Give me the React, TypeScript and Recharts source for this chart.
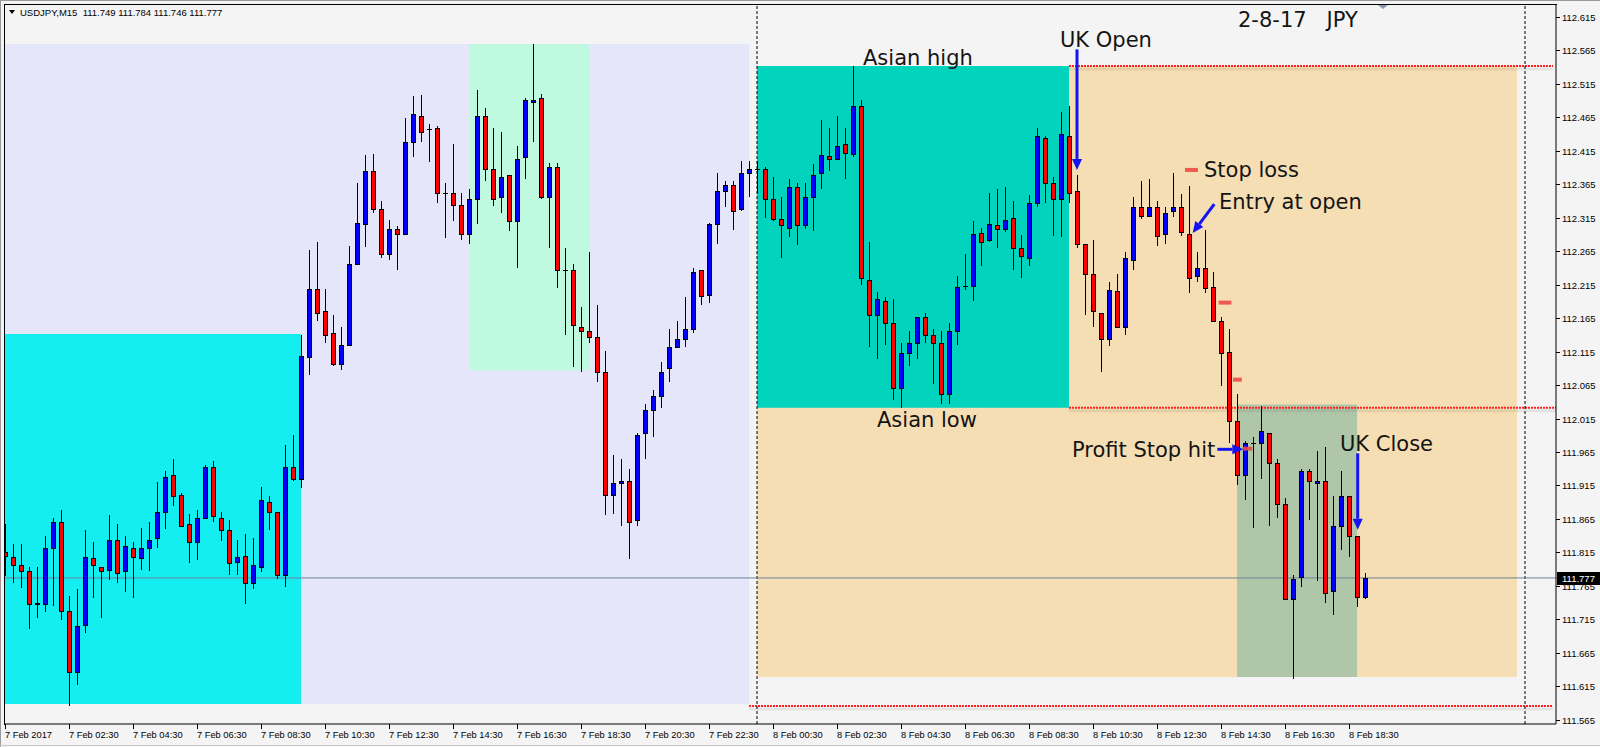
import React from 'react';
import { ComposedChart, Bar, XAxis, YAxis, ReferenceArea, ReferenceLine, ReferenceDot } from 'recharts';

// USDJPY M15, bar 0 = 7 Feb 2017 00:30, one bar per 15 minutes
const opens = [
  111.816,111.809,111.796,111.787,111.738,111.738,111.821,111.860,111.727,111.637,
  111.707,111.807,111.794,111.789,111.833,111.787,111.821,111.807,111.821,111.837,
  111.876,111.930,111.901,111.857,111.830,111.867,111.943,111.867,111.848,111.801,
  111.810,111.769,111.794,111.891,111.875,111.781,111.943,111.925,112.107,112.209,
  112.175,112.143,112.097,112.125,112.246,112.306,112.384,112.328,112.261,112.298,
  112.290,112.427,112.467,112.447,112.448,112.351,112.352,112.334,112.290,112.343,
  112.466,112.387,112.346,112.378,112.310,112.405,112.488,112.493,112.345,112.390,
  112.237,112.236,112.152,112.146,112.136,112.084,111.901,111.918,111.922,111.863,
  111.994,112.028,112.048,112.090,112.122,112.133,112.148,112.236,112.200,112.305,
  112.354,112.363,112.327,112.381,112.387,112.387,112.342,112.313,112.300,112.361,
  112.304,112.345,112.381,112.407,112.403,112.424,112.410,112.482,112.222,112.170,
  112.191,112.158,112.061,112.113,112.128,112.166,112.140,112.128,112.051,112.145,
  112.213,112.213,112.292,112.281,112.304,112.298,112.314,112.269,112.255,112.336,
  112.434,112.367,112.342,112.437,112.354,112.276,112.230,112.173,112.134,112.206,
  112.152,112.252,112.330,112.318,112.330,112.290,112.324,112.331,112.291,112.227,
  112.240,112.212,112.161,112.115,112.012,111.931,111.979,111.979,111.994,111.949,
  111.888,111.746,111.779,111.936,111.918,111.921,111.757,111.854,111.900,111.839,
  111.749,
];
const highs = [
  111.857,111.827,111.827,111.793,111.794,111.839,111.867,111.879,111.750,111.760,
  111.848,111.830,111.794,111.871,111.857,111.839,111.830,111.852,111.860,111.920,
  111.936,111.955,111.904,111.873,111.879,111.946,111.951,111.875,111.863,111.833,
  111.842,111.836,111.913,111.900,111.875,111.976,111.991,112.140,112.266,112.278,
  112.208,112.170,112.152,112.273,112.366,112.409,112.410,112.340,112.312,112.303,
  112.463,112.496,112.498,112.454,112.452,112.366,112.424,112.351,112.357,112.506,
  112.479,112.449,112.442,112.378,112.421,112.493,112.574,112.500,112.397,112.396,
  112.269,112.245,112.182,112.263,112.184,112.116,111.961,111.955,111.939,111.994,
  112.037,112.057,112.099,112.148,112.161,112.196,112.239,112.237,112.307,112.381,
  112.369,112.369,112.400,112.399,112.399,112.391,112.375,112.345,112.373,112.366,
  112.366,112.395,112.460,112.448,112.466,112.449,112.541,112.491,112.278,112.204,
  112.196,112.194,112.128,112.146,112.167,112.172,112.149,112.145,112.158,112.227,
  112.260,112.310,112.299,112.351,112.358,112.360,112.339,112.289,112.348,112.448,
  112.437,112.375,112.472,112.481,112.378,112.276,112.281,112.173,112.219,112.231,
  112.264,112.345,112.369,112.372,112.339,112.331,112.381,112.350,112.362,112.263,
  112.297,112.234,112.167,112.149,112.051,111.982,111.987,112.034,111.994,111.955,
  111.897,111.781,111.940,111.940,111.967,111.973,111.900,111.937,111.900,111.839,
  111.784,
];
const lows = [
  111.780,111.770,111.762,111.701,111.717,111.726,111.735,111.714,111.586,111.617,
  111.695,111.747,111.717,111.774,111.770,111.756,111.747,111.789,111.788,111.822,
  111.850,111.885,111.853,111.799,111.804,111.865,111.861,111.832,111.782,111.782,
  111.738,111.761,111.786,111.849,111.776,111.764,111.922,111.912,112.080,112.161,
  112.128,112.094,112.088,112.124,112.245,112.271,112.321,112.255,112.251,112.237,
  112.290,112.406,112.428,112.398,112.336,112.284,112.310,112.281,112.275,112.306,
  112.370,112.332,112.322,112.295,112.240,112.372,112.427,112.342,112.270,112.210,
  112.140,112.092,112.085,112.128,112.070,111.871,111.873,111.855,111.806,111.855,
  111.955,111.988,112.031,112.069,112.121,112.122,112.143,112.184,112.188,112.276,
  112.331,112.296,112.324,112.345,112.351,112.314,112.310,112.254,112.286,112.274,
  112.298,112.295,112.357,112.385,112.402,112.372,112.406,112.215,112.122,112.104,
  112.125,112.043,112.031,112.094,112.104,112.128,112.067,112.037,112.037,112.125,
  112.207,112.190,112.243,112.279,112.269,112.294,112.236,112.224,112.243,112.330,
  112.337,112.288,112.286,112.336,112.269,112.170,112.151,112.085,112.123,112.151,
  112.139,112.236,112.313,112.316,112.273,112.276,112.316,112.287,112.203,112.219,
  112.202,112.160,112.064,111.979,111.915,111.894,111.851,111.924,111.854,111.867,
  111.744,111.626,111.764,111.864,111.772,111.739,111.721,111.818,111.809,111.734,
  111.746,
];
const closes = [
  111.810,111.797,111.787,111.738,111.739,111.822,111.860,111.727,111.637,111.706,
  111.809,111.796,111.788,111.834,111.785,111.824,111.809,111.821,111.834,111.875,
  111.927,111.900,111.855,111.830,111.867,111.943,111.869,111.848,111.800,111.809,
  111.769,111.796,111.893,111.876,111.781,111.943,111.924,112.109,112.209,112.173,
  112.140,112.096,112.125,112.246,112.307,112.384,112.327,112.260,112.298,112.290,
  112.427,112.469,112.442,112.447,112.351,112.351,112.334,112.290,112.342,112.467,
  112.388,112.343,112.376,112.310,112.403,112.490,112.491,112.345,112.390,112.237,
  112.237,112.154,112.146,112.136,112.084,111.901,111.919,111.922,111.860,111.991,
  112.028,112.049,112.085,112.122,112.134,112.149,112.234,112.198,112.306,112.354,
  112.364,112.324,112.382,112.387,112.387,112.342,112.313,112.304,112.361,112.304,
  112.345,112.378,112.409,112.403,112.422,112.412,112.482,112.224,112.170,112.193,
  112.157,112.061,112.113,112.128,112.166,112.140,112.128,112.051,112.146,112.212,
  112.213,112.291,112.278,112.305,112.298,112.311,112.269,112.258,112.336,112.436,
  112.367,112.342,112.440,112.352,112.275,112.230,112.175,112.133,112.207,112.152,
  112.254,112.330,112.318,112.330,112.287,112.322,112.330,112.293,112.225,112.240,
  112.210,112.161,112.113,112.012,111.931,111.979,111.979,111.996,111.949,111.888,
  111.745,111.775,111.937,111.922,111.921,111.754,111.855,111.900,111.839,111.749,
  111.777,
];

const timeTicks = [0, 8, 16, 24, 32, 40, 48, 56, 64, 72, 80, 88, 96, 104, 112, 120, 128, 136, 144, 152, 160, 168];
const timeLabels = [
  '7 Feb 2017', '7 Feb 02:30', '7 Feb 04:30', '7 Feb 06:30', '7 Feb 08:30', '7 Feb 10:30',
  '7 Feb 12:30', '7 Feb 14:30', '7 Feb 16:30', '7 Feb 18:30', '7 Feb 20:30', '7 Feb 22:30',
  '8 Feb 00:30', '8 Feb 02:30', '8 Feb 04:30', '8 Feb 06:30', '8 Feb 08:30', '8 Feb 10:30',
  '8 Feb 12:30', '8 Feb 14:30', '8 Feb 16:30', '8 Feb 18:30',
];
const priceTicks = [
  112.615, 112.565, 112.515, 112.465, 112.415, 112.365, 112.315, 112.265, 112.215, 112.165, 112.115,
  112.065, 112.015, 111.965, 111.915, 111.865, 111.815, 111.765, 111.715, 111.665, 111.615, 111.565,
];
const lastPrice = 111.777;
const titleText = 'USDJPY,M15  111.749 111.784 111.746 111.777';

// session boxes (bar index / price)
const boxes = [
  { x1: -0.125, x2: 93, y1: 111.589, y2: 112.574, fill: '#E6E6FA' },
  { x1: -0.125, x2: 37, y1: 111.589, y2: 112.141, fill: '#14EEF1' },
  { x1: 58, x2: 73, y1: 112.087, y2: 112.574, fill: '#BFF9E0' },
  { x1: 94, x2: 189, y1: 111.629, y2: 112.541, fill: '#F5DEB3' },
  { x1: 94, x2: 133, y1: 112.031, y2: 112.541, fill: '#02D3BD' },
  { x1: 154, x2: 169, y1: 111.629, y2: 112.036, fill: '#B0C6A9' },
];
const levels = [
  { x1: 133, x2: 193.5, y: 112.541 },
  { x1: 133, x2: 193.875, y: 112.031 },
  { x1: 93, x2: 193.5, y: 111.586 },
];
const separators = [94, 190];
const stopMarks = [
  { x1: 147.5, x2: 149.125, y: 112.386 },
  { x1: 151.7, x2: 153.3, y: 112.188 },
  { x1: 153.5, x2: 154.6, y: 112.073 },
  { x1: 154.7, x2: 155.9, y: 111.970 },
];
const arrows = [
  { x1: 134.0, y1: 112.566, x2: 134.0, y2: 112.386 },
  { x1: 151.16, y1: 112.335, x2: 148.46, y2: 112.292 },
  { x1: 151.54, y1: 111.969, x2: 154.79, y2: 111.969 },
  { x1: 169.09, y1: 111.963, x2: 169.09, y2: 111.849 },
];
const notes = [
  { x: 154.125, y: 112.600, text: '2-8-17\u00A0\u00A0 JPY' },
  { x: 131.875, y: 112.570, text: 'UK Open' },
  { x: 107.25, y: 112.543, text: 'Asian high' },
  { x: 149.875, y: 112.375, text: 'Stop loss' },
  { x: 151.75, y: 112.328, text: 'Entry at open' },
  { x: 109.0, y: 112.002, text: 'Asian low' },
  { x: 133.375, y: 111.958, text: 'Profit Stop hit' },
  { x: 166.875, y: 111.967, text: 'UK Close' },
];

const data = opens.map((o, i) => ({
  i,
  o,
  h: highs[i],
  l: lows[i],
  c: closes[i],
  range: [lows[i], highs[i]],
}));

const AXIS_FONT = '"Liberation Sans", Arial, sans-serif';
const NOTE_FONT = '"DejaVu Sans", Verdana, sans-serif';

const Candle = (props: any) => {
  const { x, y, width, height, payload } = props;
  if (!payload || x == null) return null;
  const { o, h, l, c } = payload;
  const cx = Math.round(x + width / 2);
  const top = Math.min(y, y + height);
  const bot = Math.max(y, y + height);
  const k = h > l ? (bot - top) / (h - l) : 0;
  const py = (p: number) => top + (h - p) * k;
  const yo = py(o);
  const yc = py(c);
  const bt = Math.round(Math.min(yo, yc));
  const bb = Math.round(Math.max(yo, yc));
  const up = c > o;
  return (
    <g>
      <line x1={cx + 0.5} x2={cx + 0.5} y1={Math.round(top)} y2={Math.round(bot)} stroke="#000" strokeWidth={1} />
      {bb - bt < 1 ? (
        <line x1={cx - 2} x2={cx + 3} y1={bt + 0.5} y2={bt + 0.5} stroke="#000" strokeWidth={1} />
      ) : (
        <rect x={cx - 1.5} y={bt + 0.5} width={4} height={bb - bt} fill={up ? '#0000FF' : '#FF0000'} stroke="#000" strokeWidth={1} />
      )}
    </g>
  );
};

const TimeTick = (props: any) => {
  const { x, payload } = props;
  const idx = timeTicks.indexOf(payload.value);
  const xx = Math.round(x);
  return (
    <g>
      <line x1={xx + 0.5} x2={xx + 0.5} y1={724} y2={729} stroke="#000" strokeWidth={1} />
      <text x={xx} y={737.5} fontSize={9.3} fontFamily={AXIS_FONT} fill="#000" textAnchor="start">
        {idx >= 0 ? timeLabels[idx] : ''}
      </text>
    </g>
  );
};

const PriceTick = (props: any) => {
  const { y, payload } = props;
  const yy = Math.round(y);
  return (
    <g>
      <line x1={1556} x2={1560} y1={yy + 0.5} y2={yy + 0.5} stroke="#000" strokeWidth={1} />
      <text x={1562} y={yy + 3.8} fontSize={9.5} fontFamily={AXIS_FONT} fill="#000" textAnchor="start">
        {Number(payload.value).toFixed(3)}
      </text>
    </g>
  );
};

const BidLabel = (props: any) => {
  const vb = props.viewBox || {};
  const yy = Math.round(vb.y ?? 0);
  const x0 = (vb.x ?? 0) + (vb.width ?? 0) + 1;
  return (
    <g>
      <rect x={x0} y={yy - 6} width={43} height={13} fill="#000" />
      <text x={x0 + 5} y={yy + 4} fontSize={9.5} fontFamily={AXIS_FONT} fill="#fff">
        {lastPrice.toFixed(3)}
      </text>
    </g>
  );
};

const DottedLevel = (props: any) => {
  const { x1, y1, x2, y2 } = props;
  return (
    <g>
      <line x1={x1} x2={x2} y1={y1 + 3} y2={y2 + 3} stroke="#000" strokeOpacity={0.07} strokeWidth={3} />
      <line x1={x1} x2={x2} y1={y1} y2={y2} stroke="#FF2020" strokeWidth={2} strokeDasharray="2 1" />
    </g>
  );
};

const StopMark = (props: any) => {
  const { x1, y1, x2, y2 } = props;
  return <line x1={x1} x2={x2} y1={y1} y2={y2} stroke="#EE4A44" strokeWidth={4} strokeOpacity={0.9} />;
};

const Arrow = (props: any) => {
  const { x1, y1, x2, y2 } = props;
  const dx = x2 - x1;
  const dy = y2 - y1;
  const len = Math.hypot(dx, dy) || 1;
  const ux = dx / len;
  const uy = dy / len;
  const hl = 11;
  const hw = 5;
  const bx = x2 - ux * hl;
  const by = y2 - uy * hl;
  return (
    <g>
      <line x1={x1} y1={y1} x2={bx} y2={by} stroke="#1414F0" strokeWidth={3} />
      <polygon points={`${x2},${y2} ${bx - uy * hw},${by + ux * hw} ${bx + uy * hw},${by - ux * hw}`} fill="#1414F0" />
    </g>
  );
};

export default function App() {
  return (
    <div style={{ position: 'absolute', left: 0, top: 0, width: 1600, height: 747, background: '#F4F4F4', overflow: 'hidden' }}>
      <ComposedChart width={1600} height={747} data={data} margin={{ top: 4, right: 0, left: 4, bottom: 0 }}>
        <XAxis
          type="number"
          dataKey="i"
          domain={[-0.125, 193.875]}
          allowDataOverflow
          ticks={timeTicks}
          interval={0}
          tick={<TimeTick />}
          tickLine={false}
          axisLine={{ stroke: '#000' }}
          height={23}
        />
        <YAxis
          orientation="right"
          type="number"
          domain={[111.559, 112.6337]}
          allowDataOverflow
          ticks={priceTicks}
          interval={0}
          tick={<PriceTick />}
          tickLine={false}
          axisLine={{ stroke: '#000' }}
          width={44}
        />
        {boxes.map((b, k) => (
          <ReferenceArea key={'b' + k} x1={b.x1} x2={b.x2} y1={b.y1} y2={b.y2} fill={b.fill} fillOpacity={1} stroke="none" ifOverflow="visible" zIndex={50} />
        ))}
        {levels.map((lv, k) => (
          <ReferenceLine key={'l' + k} segment={[{ x: lv.x1, y: lv.y }, { x: lv.x2, y: lv.y }]} shape={DottedLevel} ifOverflow="visible" zIndex={60} />
        ))}
        {separators.map((s, k) => (
          <ReferenceLine key={'s' + k} x={s} stroke="#000" strokeWidth={1} strokeDasharray="3 2" zIndex={60} />
        ))}
        <ReferenceLine y={lastPrice} stroke="#6F8296" strokeWidth={1} label={<BidLabel />} zIndex={60} />
        <Bar dataKey="range" barSize={6} isAnimationActive={false} shape={Candle} zIndex={300} />
        {stopMarks.map((m, k) => (
          <ReferenceLine key={'m' + k} segment={[{ x: m.x1, y: m.y }, { x: m.x2, y: m.y }]} shape={StopMark} ifOverflow="visible" zIndex={700} />
        ))}
        {arrows.map((a, k) => (
          <ReferenceLine key={'a' + k} segment={[{ x: a.x1, y: a.y1 }, { x: a.x2, y: a.y2 }]} shape={Arrow} ifOverflow="visible" zIndex={700} />
        ))}
        {notes.map((n, k) => (
          <ReferenceDot
            key={'n' + k}
            x={n.x}
            y={n.y}
            r={1}
            ifOverflow="visible"
            zIndex={800}
            shape={(p: any) => (
              <text x={p.cx} y={p.cy} fontSize={21} fontFamily={NOTE_FONT} fill="#141414" style={{ whiteSpace: 'pre' }}>
                {n.text}
              </text>
            )}
          />
        ))}
      </ComposedChart>
      <div style={{ position: 'absolute', left: 4, top: 4, width: 1553, height: 721, borderLeft: '1px solid #000', borderTop: '1px solid #000', boxSizing: 'border-box', pointerEvents: 'none' }} />
      <svg width={1600} height={747} style={{ position: 'absolute', left: 0, top: 0, pointerEvents: 'none' }}>
        <line x1={0.5} x2={0.5} y1={0} y2={747} stroke="#9A9A9A" />
        <line x1={0} x2={1600} y1={0.5} y2={0.5} stroke="#9A9A9A" />
        <line x1={0} x2={1600} y1={745.5} y2={745.5} stroke="#C8C8C8" />
        <polygon points="9,10 15,10 12,14" fill="#000" />
        <polygon points="1378,5 1388,5 1383,9" fill="#8C98A8" />
      </svg>
      <div style={{ position: 'absolute', left: 20, top: 6, fontSize: 9.5, lineHeight: '13px', fontFamily: AXIS_FONT, color: '#000', whiteSpace: 'pre' }}>
        {titleText}
      </div>
    </div>
  );
}
